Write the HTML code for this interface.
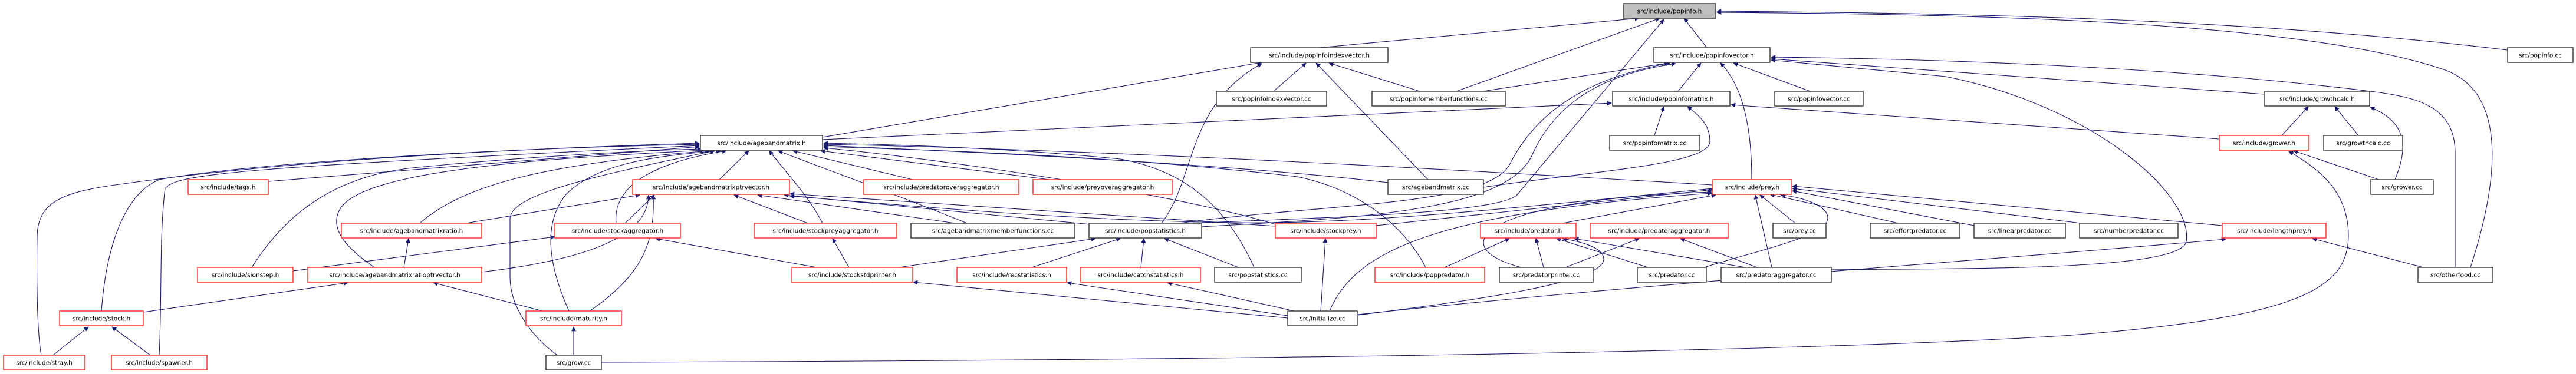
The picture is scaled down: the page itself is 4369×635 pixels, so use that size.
<!DOCTYPE html>
<html><head><meta charset="utf-8"><style>
html,body{margin:0;padding:0;background:#fff;width:4369px;height:635px;overflow:hidden}
svg{display:block}
text{font-family:"DejaVu Sans","Liberation Sans",sans-serif;font-size:10.5px;fill:#000}
.n{fill:#fff;stroke:#404040;stroke-width:1.5}
.r{fill:#fff;stroke:#ff3333;stroke-width:1.5}
.e{fill:none;stroke:#191970;stroke-width:1.1}
</style></head><body>
<svg width="4369" height="635" viewBox="0 0 4369 635" xmlns="http://www.w3.org/2000/svg">
<defs><marker id="a" viewBox="0 0 10 10" refX="9" refY="5" markerWidth="10" markerHeight="8" markerUnits="userSpaceOnUse" orient="auto"><path d="M0,0 L10,5 L0,10 z" fill="#191970"/></marker></defs>
<g class="e" marker-end="url(#a)">
<!-- popinfo.h -->
<path d="M2237,81 L2780,31"/>
<path d="M2470,155 L2815,31"/>
<path d="M2895,81 L2856,31"/>
<path d="M4253,85 C3800,30 3300,22 2912,19"/>
<path d="M4190,454 C4240,300 4250,160 4150,120 C3900,32 3300,24 2912,21"/>
<path d="M2030,379 C2200,370 2530,365 2572,332 L2822,33"/>
<!-- popinfoindexvector.h -->
<path d="M1395,233 L2140,106"/>
<path d="M2160,155 L2215,107"/>
<path d="M2408,155 L2254,107"/>
<path d="M2422,305 L2232,107"/>
<path d="M1970,379 C2030,300 2010,180 2140,108"/>
<!-- popinfovector.h -->
<path d="M2515,155 L2830,107"/>
<path d="M2846,155 L2885,107"/>
<path d="M3070,155 L2940,107"/>
<path d="M2971,305 C2971,230 2960,150 2918,107"/>
<path d="M3841,160 L3004,100"/>
<path d="M4164,454 L4164,260 C4164,180 4100,165 4020,155 C3700,115 3300,100 3004,97"/>
<path d="M2038,385 C2300,370 2560,360 2600,260 C2650,150 2760,120 2842,108"/>
<path d="M2000,379 C2250,345 2520,350 2560,280 C2620,160 2740,125 2832,107"/>
<path d="M3106,458 C3300,455 3700,462 3708,410 C3720,330 3550,180 3300,130 L3004,102"/>
<!-- popinfomatrix.h -->
<path d="M1395,237 L2733,175"/>
<path d="M2806,230 L2822,181"/>
<path d="M2516,318 C2700,290 2900,280 2900,240 C2900,210 2880,195 2862,181"/>
<path d="M3764,236 L2936,178"/>
<!-- growthcalc.h / grower.h -->
<path d="M3870,230 L3915,181"/>
<path d="M4000,230 L3960,181"/>
<path d="M4062,305 C4080,260 4090,210 4020,182"/>
<path d="M4035,305 L3890,256"/>
<path d="M1020,615 C2000,612 3000,600 3500,570 C3900,540 3983,490 3983,400 C3983,330 3940,290 3882,257"/>
<!-- agebandmatrix.h -->
<path d="M70,603 C62,560 62,450 63,400 C65,340 110,325 210,312 C400,285 700,258 1186,243"/>
<path d="M172,528 C180,420 210,330 270,305 C400,280 800,253 1186,245"/>
<path d="M270,603 C275,500 270,400 280,320 C300,295 400,285 1186,247"/>
<path d="M455,308 L1186,249"/>
<path d="M427,454 C480,370 560,300 700,285 C900,265 1100,255 1190,253"/>
<path d="M635,454 C600,430 550,390 580,350 C630,290 900,270 1195,255"/>
<path d="M712,379 C780,320 900,280 1203,256"/>
<path d="M945,603 C900,570 865,520 865,470 L865,370 C870,330 1000,300 1212,256"/>
<path d="M965,528 C930,450 920,380 960,330 C1010,280 1100,265 1222,256"/>
<path d="M1045,379 C1040,330 1080,280 1232,256"/>
<path d="M1220,305 L1270,256"/>
<path d="M1395,379 C1370,330 1330,290 1305,256"/>
<path d="M1640,379 C1520,330 1380,280 1320,256"/>
<path d="M1548,305 L1345,256"/>
<path d="M1780,305 L1392,256"/>
<path d="M2127,454 C2080,350 2010,290 1900,270 C1700,250 1500,245 1397,243"/>
<path d="M2354,310 C2100,280 1700,260 1397,247"/>
<path d="M2905,314 C2500,290 1900,255 1397,245"/>
<path d="M2163,381 C2000,330 1600,270 1397,251"/>
<path d="M2418,454 C2380,380 2300,320 2200,300 C1900,265 1600,255 1397,249"/>
<!-- agebandmatrixptrvector.h -->
<path d="M790,379 L1085,331"/>
<path d="M1060,379 L1110,331"/>
<path d="M1370,379 L1245,331"/>
<path d="M1620,379 L1285,331"/>
<path d="M1850,381 L1330,331"/>
<path d="M2163,384 L1340,329"/>
<path d="M817,462 C1000,440 1100,400 1100,331"/>
<path d="M1000,528 C1100,460 1110,400 1108,331"/>
<path d="M2905,320 C2500,360 2300,380 2100,378 C1800,375 1500,345 1340,333"/>
<!-- others -->
<path d="M685,454 L693,405"/>
<path d="M497,460 L941,402"/>
<path d="M243,530 L590,480"/>
<path d="M920,528 L735,480"/>
<path d="M90,603 L150,555"/>
<path d="M255,603 L190,555"/>
<path d="M973,603 L973,555"/>
<path d="M1385,454 L1112,405"/>
<path d="M1440,454 L1412,405"/>
<path d="M1525,454 L1858,405"/>
<path d="M1750,454 L1900,405"/>
<path d="M1935,454 L1940,405"/>
<path d="M2100,454 L1975,405"/>
<path d="M2184,540 L1549,479"/>
<path d="M2184,536 L1810,480"/>
<path d="M2195,528 L1980,480"/>
<path d="M2240,528 L2248,405"/>
<!-- prey.h -->
<path d="M2334,383 L2905,322"/>
<path d="M2650,379 L2910,331"/>
<path d="M2580,454 C2450,420 2500,340 2903,326"/>
<path d="M2255,528 C2300,420 2450,360 2903,328"/>
<path d="M3045,379 L2985,331"/>
<path d="M3220,379 L3002,330"/>
<path d="M3348,383 L3040,324"/>
<path d="M3530,379 L3040,320"/>
<path d="M3769,383 L3040,316"/>
<path d="M3005,454 L2977,331"/>
<path d="M2890,454 C3000,420 3100,400 3100,370 C3100,350 3060,335 3020,331"/>
<!-- predator.h -->
<path d="M2450,454 L2560,405"/>
<path d="M2618,454 L2605,405"/>
<path d="M2795,454 L2640,405"/>
<path d="M2960,454 L2670,405"/>
<path d="M2303,535 C2500,510 2720,480 2720,440 C2720,420 2680,410 2650,405"/>
<path d="M2655,454 L2780,405"/>
<path d="M2980,454 L2850,405"/>
<!-- lengthprey.h -->
<path d="M4110,454 L3922,405"/>
<path d="M2303,534 C2800,480 3400,440 3775,406"/>
</g>
<g>
<rect x="2753" y="6" width="157" height="25" fill="#bfbfbf" stroke="#404040" stroke-width="1.5"/><text x="2831.5" y="22.5" text-anchor="middle">src/include/popinfo.h</text>
<rect class="n" x="2121" y="81" width="233" height="25"/><text x="2237.5" y="97.5" text-anchor="middle">src/include/popinfoindexvector.h</text>
<rect class="n" x="2805" y="81" width="197" height="25"/><text x="2903.5" y="97.5" text-anchor="middle">src/include/popinfovector.h</text>
<rect class="n" x="4253" y="81" width="111" height="25"/><text x="4308.5" y="97.5" text-anchor="middle">src/popinfo.cc</text>
<rect class="n" x="2063" y="155" width="187" height="25"/><text x="2156.5" y="171.5" text-anchor="middle">src/popinfoindexvector.cc</text>
<rect class="n" x="2327" y="155" width="226" height="25"/><text x="2440" y="171.5" text-anchor="middle">src/popinfomemberfunctions.cc</text>
<rect class="n" x="2735" y="155" width="199" height="25"/><text x="2834.5" y="171.5" text-anchor="middle">src/include/popinfomatrix.h</text>
<rect class="n" x="3010" y="155" width="150" height="25"/><text x="3085" y="171.5" text-anchor="middle">src/popinfovector.cc</text>
<rect class="n" x="3841" y="155" width="178" height="25"/><text x="3930" y="171.5" text-anchor="middle">src/include/growthcalc.h</text>
<rect class="n" x="1188" y="230" width="207" height="25"/><text x="1291.5" y="246.5" text-anchor="middle">src/include/agebandmatrix.h</text>
<rect class="n" x="2730" y="230" width="153" height="25"/><text x="2806.5" y="246.5" text-anchor="middle">src/popinfomatrix.cc</text>
<rect class="r" x="3764" y="230" width="152" height="25"/><text x="3840" y="246.5" text-anchor="middle">src/include/grower.h</text>
<rect class="n" x="3941" y="230" width="134" height="25"/><text x="4008" y="246.5" text-anchor="middle">src/growthcalc.cc</text>
<rect class="r" x="319" y="305" width="136" height="25"/><text x="387" y="321.5" text-anchor="middle">src/include/tags.h</text>
<rect class="r" x="1073" y="305" width="266" height="25"/><text x="1206" y="321.5" text-anchor="middle">src/include/agebandmatrixptrvector.h</text>
<rect class="r" x="1465" y="305" width="263" height="25"/><text x="1596.5" y="321.5" text-anchor="middle">src/include/predatoroveraggregator.h</text>
<rect class="r" x="1752" y="305" width="236" height="25"/><text x="1870" y="321.5" text-anchor="middle">src/include/preyoveraggregator.h</text>
<rect class="n" x="2354" y="305" width="162" height="25"/><text x="2435" y="321.5" text-anchor="middle">src/agebandmatrix.cc</text>
<rect class="r" x="2905" y="305" width="134" height="25"/><text x="2972" y="321.5" text-anchor="middle">src/include/prey.h</text>
<rect class="n" x="4021" y="305" width="106" height="25"/><text x="4074" y="321.5" text-anchor="middle">src/grower.cc</text>
<rect class="r" x="579" y="379" width="238" height="25"/><text x="698" y="395.5" text-anchor="middle">src/include/agebandmatrixratio.h</text>
<rect class="r" x="941" y="379" width="213" height="25"/><text x="1047.5" y="395.5" text-anchor="middle">src/include/stockaggregator.h</text>
<rect class="r" x="1279" y="379" width="242" height="25"/><text x="1400" y="395.5" text-anchor="middle">src/include/stockpreyaggregator.h</text>
<rect class="n" x="1545" y="379" width="278" height="25"/><text x="1684" y="395.5" text-anchor="middle">src/agebandmatrixmemberfunctions.cc</text>
<rect class="n" x="1847" y="379" width="191" height="25"/><text x="1942.5" y="395.5" text-anchor="middle">src/include/popstatistics.h</text>
<rect class="r" x="2163" y="379" width="171" height="25"/><text x="2248.5" y="395.5" text-anchor="middle">src/include/stockprey.h</text>
<rect class="r" x="2511" y="379" width="162" height="25"/><text x="2592" y="395.5" text-anchor="middle">src/include/predator.h</text>
<rect class="r" x="2697" y="379" width="234" height="25"/><text x="2814" y="395.5" text-anchor="middle">src/include/predatoraggregator.h</text>
<rect class="n" x="3007" y="379" width="90" height="25"/><text x="3052" y="395.5" text-anchor="middle">src/prey.cc</text>
<rect class="n" x="3172" y="379" width="152" height="25"/><text x="3248" y="395.5" text-anchor="middle">src/effortpredator.cc</text>
<rect class="n" x="3348" y="379" width="155" height="25"/><text x="3425.5" y="395.5" text-anchor="middle">src/linearpredator.cc</text>
<rect class="n" x="3527" y="379" width="167" height="25"/><text x="3610.5" y="395.5" text-anchor="middle">src/numberpredator.cc</text>
<rect class="r" x="3769" y="379" width="176" height="25"/><text x="3857" y="395.5" text-anchor="middle">src/include/lengthprey.h</text>
<rect class="r" x="335" y="454" width="162" height="25"/><text x="416" y="470.5" text-anchor="middle">src/include/sionstep.h</text>
<rect class="r" x="522" y="454" width="295" height="25"/><text x="669.5" y="470.5" text-anchor="middle">src/include/agebandmatrixratioptrvector.h</text>
<rect class="r" x="1343" y="454" width="205" height="25"/><text x="1445.5" y="470.5" text-anchor="middle">src/include/stockstdprinter.h</text>
<rect class="r" x="1623" y="454" width="186" height="25"/><text x="1716" y="470.5" text-anchor="middle">src/include/recstatistics.h</text>
<rect class="r" x="1833" y="454" width="203" height="25"/><text x="1934.5" y="470.5" text-anchor="middle">src/include/catchstatistics.h</text>
<rect class="n" x="2060" y="454" width="147" height="25"/><text x="2133.5" y="470.5" text-anchor="middle">src/popstatistics.cc</text>
<rect class="r" x="2332" y="454" width="186" height="25"/><text x="2425" y="470.5" text-anchor="middle">src/include/poppredator.h</text>
<rect class="n" x="2543" y="454" width="159" height="25"/><text x="2622.5" y="470.5" text-anchor="middle">src/predatorprinter.cc</text>
<rect class="n" x="2777" y="454" width="117" height="25"/><text x="2835.5" y="470.5" text-anchor="middle">src/predator.cc</text>
<rect class="n" x="2919" y="454" width="187" height="25"/><text x="3012.5" y="470.5" text-anchor="middle">src/predatoraggregator.cc</text>
<rect class="n" x="4101" y="454" width="127" height="25"/><text x="4164.5" y="470.5" text-anchor="middle">src/otherfood.cc</text>
<rect class="r" x="101" y="528" width="142" height="25"/><text x="172" y="544.5" text-anchor="middle">src/include/stock.h</text>
<rect class="r" x="892" y="528" width="162" height="25"/><text x="973" y="544.5" text-anchor="middle">src/include/maturity.h</text>
<rect class="n" x="2184" y="528" width="118" height="25"/><text x="2243" y="544.5" text-anchor="middle">src/initialize.cc</text>
<rect class="r" x="6" y="603" width="138" height="25"/><text x="75" y="619.5" text-anchor="middle">src/include/stray.h</text>
<rect class="r" x="189" y="603" width="162" height="25"/><text x="270" y="619.5" text-anchor="middle">src/include/spawner.h</text>
<rect class="n" x="926" y="603" width="94" height="25"/><text x="973" y="619.5" text-anchor="middle">src/grow.cc</text>
</g>
</svg>
</body></html>
